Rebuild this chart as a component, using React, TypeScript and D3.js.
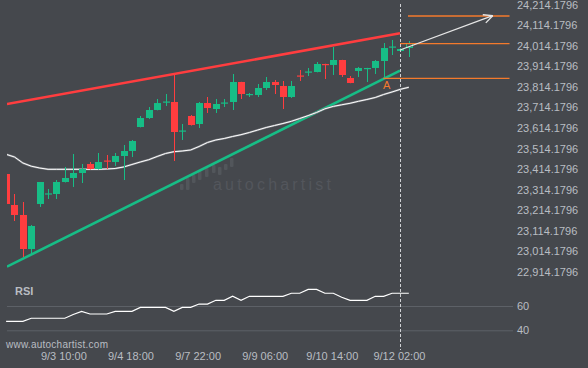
import React, { useEffect } from 'react';
import * as d3 from 'd3';

const W = 588;
const H = 368;

// Candles (4h), index 0..48
const opens = [23390.4, 23239.5, 23190.9, 23025.4, 23244.4, 23292, 23293.0, 23351.4, 23370.9, 23395.2, 23439.1, 23414.7, 23456.0, 23448.8, 23477.9, 23502.3, 23619.0, 23662.8, 23701.8, 23738.3, 23740.7, 23597.2, 23672.6, 23633.6, 23735.8, 23706.6, 23733.4, 23740.7, 23838.0, 23774.8, 23774.8, 23808.8, 23838.0, 23818.6, 23765.0, 23869.7, 23884.3, 23886.7, 23925.6, 23920.8, 23945.1, 23857.5, 23891.6, 23901.3, 23906.2, 23940.2, 24005.9, 23988.9, 24003.5];
const highs = [23400.1, 23293.0, 23254.1, 23142.2, 23351.4, 23317.4, 23361.1, 23424.5, 23487.7, 23439.1, 23448.8, 23492.5, 23482.8, 23492.5, 23531.5, 23555.8, 23672.6, 23716.4, 23755.3, 23779.6, 23872.0, 23633.7, 23677.5, 23740.7, 23765.0, 23755.3, 23755.3, 23876.9, 23839.0, 23784.5, 23828.3, 23862.4, 23847.7, 23842.9, 23842.9, 23896.4, 23906.2, 23935.4, 23927.0, 24008.3, 23946.0, 23867.2, 23911.1, 23907.0, 23945.1, 24027.8, 24042.4, 24003.5, 24037.6];
const lows = [23234.6, 23161.6, 22986.5, 22996.2, 23229.8, 23268.7, 23268.7, 23349.0, 23327.1, 23346.5, 23412.0, 23412.0, 23414.7, 23429.3, 23361.1, 23473.1, 23617.0, 23658.0, 23700.0, 23721.3, 23453.6, 23555.8, 23626.0, 23614.2, 23687.2, 23687.2, 23716.4, 23701.8, 23755.3, 23765.0, 23765.0, 23799.1, 23779.6, 23706.6, 23760.2, 23842.9, 23867.2, 23885.0, 23852.6, 23872.1, 23862.4, 23832.0, 23862.4, 23838.0, 23877.0, 23857.5, 23969.4, 23988.0, 23959.7];
const closes = [23244.4, 23190.9, 23025.4, 23137.3, 23351.4, 23296, 23351.4, 23370.9, 23395.2, 23414.7, 23414.7, 23448.8, 23451.2, 23477.9, 23502.3, 23550.9, 23662.8, 23701.8, 23735.7, 23743.1, 23594.7, 23602.0, 23628.8, 23735.8, 23711.5, 23731.0, 23738.3, 23838.0, 23779.6, 23779.6, 23808.8, 23838.0, 23823.4, 23765.0, 23818.6, 23864.8, 23889.1, 23925.6, 23920.8, 23945.1, 23872.1, 23833.2, 23906.2, 23906.2, 23940.2, 24003.4, 24010.8, 23998.6, 24027.8];

const maValues = [23486.2, 23473.0, 23443.9, 23428.3, 23419.5, 23413.2, 23413.2, 23413.2, 23413.2, 23413.2, 23413.2, 23413.2, 23414.7, 23417.1, 23424.4, 23436.6, 23448.8, 23459.9, 23475.5, 23490.1, 23498.9, 23502.3, 23507.2, 23524.2, 23543.7, 23555.8, 23563.1, 23572.9, 23581.6, 23592.3, 23604.5, 23616.6, 23626.4, 23636.1, 23646.8, 23660.4, 23674.5, 23689.6, 23707.6, 23719.3, 23727.1, 23734.4, 23744.1, 23752.9, 23762.6, 23777.2, 23789.4, 23802.5, 23812.3];

const rsiValues = [47.4, 47.4, 47.4, 49.9, 49.9, 49.9, 49.9, 49.9, 53, 55.6, 53.4, 53.4, 53.4, 55.6, 55.6, 55.6, 58.9, 58.9, 58.9, 58.9, 55.6, 58.9, 58.9, 61.6, 61.6, 64.7, 64.7, 68, 64.7, 68, 68, 68, 68, 68, 70.5, 70.5, 73.7, 73.7, 70.5, 70.5, 67.2, 64.7, 64.7, 64.7, 68, 68, 70.5, 70.5, 70.5];

const priceTicks = [24214.1796, 24114.1796, 24014.1796, 23914.1796, 23814.1796, 23714.1796, 23614.1796, 23514.1796, 23414.1796, 23314.1796, 23214.1796, 23114.1796, 23014.1796, 22914.1796];
const rsiTicks = [60, 40];
const dateTickIndex = [7, 15, 23, 31, 39, 47];
const dateTickLabels = ['9/3 10:00', '9/4 18:00', '9/7 22:00', '9/9 06:00', '9/10 14:00', '9/12 02:00'];

// Pattern (trend lines, levels, forecast)
const resistance = [{ i: 0.1, p: 23731.0 }, { i: 46.95, p: 24075.0 }];
const support = [{ i: 0.1, p: 22939.3 }, { i: 46.95, p: 23893.0 }];
const levels = [{ p: 24159.2, from: 47.9 }, { p: 24024.9, from: 46.95 }, { p: 23856.1, from: 44.96 }];
const levelEnd = 60;
const forecast = [{ i: 46.95, p: 23993.7 }, { i: 58, p: 24160.6 }];
const pointA = { i: 45, p: 23857.5 };
const nowIndex = 47;

const BG = '#45484d';
const GREEN = '#17bd86';
const RED = '#ff3d3f';
const ORANGE = '#f47a2c';
const TXT = '#b9bdc2';
const FONT = '"Liberation Sans", Arial, sans-serif';

export default function App() {
  useEffect(() => {
    document.body.style.margin = '0';
    document.body.style.background = BG;
  }, []);

  const x = d3.scaleLinear().domain([0, 48]).range([6.1, 6.1 + 48 * 8.39]);
  const y = d3.scaleLinear().domain([22914.1796, 24214.1796]).range([271.85, 4.7]);
  const yr = d3.scaleLinear().domain([40, 60]).range([330.3, 306]);
  const bw = 7;

  const maLine = d3.line<number>().x((_, i) => x(i)).y((d) => y(d))(maValues) || '';
  const rsiLine = d3.line<number>().x((_, i) => x(i)).y((d) => yr(d))(rsiValues) || '';
  const seg = d3.line<{ i: number; p: number }>().x((d) => x(d.i)).y((d) => y(d.p));

  const fx0 = x(forecast[0].i), fy0 = y(forecast[0].p);
  const fx1 = x(forecast[1].i), fy1 = y(forecast[1].p);
  const ang = Math.atan2(fy1 - fy0, fx1 - fx0);
  const hl = 10;
  const head = [ang + Math.PI - 0.45, ang + Math.PI + 0.45].map((a) => [fx1 + hl * Math.cos(a), fy1 + hl * Math.sin(a)]);

  const wmBars = [[180, 184, 190], [186, 178, 190], [192, 175, 183], [198, 170, 180], [205, 168, 177], [212, 165, 173], [218, 167, 175], [224, 164, 170], [230, 158, 167]];

  return (
    <svg width={W} height={H} style={{ position: 'absolute', left: 0, top: 0, display: 'block' }}>
      <defs>
        <clipPath id="plot">
          <rect x={7} y={0} width={506} height={282} />
        </clipPath>
      </defs>
      <rect x={0} y={0} width={W} height={H} fill={BG} />

      {/* watermark */}
      <g fill="#52565b">
        {wmBars.map((b, k) => (
          <rect key={k} x={b[0]} y={b[1]} width={3.5} height={b[2] - b[1]} rx={1} />
        ))}
        <text x={213} y={190} fontFamily={FONT} fontSize={16} letterSpacing={3.2} fill="#53565c">autochartist</text>
      </g>

      <g clipPath="url(#plot)">
        {/* trend lines */}
        <path d={seg(resistance) || ''} stroke={RED} strokeWidth={2.6} fill="none" />
        <path d={seg(support) || ''} stroke={GREEN} strokeWidth={2.6} fill="none" />

        {/* moving average */}
        <path d={maLine} stroke="#7f8287" strokeWidth={2} fill="none" />
        <path d={maLine} stroke="#ffffff" strokeWidth={1} fill="none" />

        {/* candles */}
        {opens.map((o, i) => {
          const c = closes[i];
          const up = c >= o;
          const col = up ? GREEN : RED;
          const cx = Math.round(x(i)) + 0.5;
          const top = y(Math.max(o, c));
          const bot = y(Math.min(o, c));
          const hh = Math.max(1.2, bot - top);
          const last = i === opens.length - 1;
          return (
            <g key={i}>
              <line x1={cx} x2={cx} y1={y(highs[i])} y2={y(lows[i])} stroke={col} strokeWidth={1} />
              {last ? (
                <rect x={cx - bw / 2 + 0.5} y={top + 0.5} width={bw - 1} height={hh - 1} fill={BG} stroke={col} strokeWidth={1} />
              ) : (
                <rect x={cx - bw / 2} y={top} width={bw} height={hh} fill={col} />
              )}
            </g>
          );
        })}

        {/* levels */}
        {levels.map((l, k) => (
          <line key={k} x1={x(l.from)} x2={x(levelEnd)} y1={y(l.p)} y2={y(l.p)} stroke={ORANGE} strokeWidth={1.3} />
        ))}
        <text x={x(pointA.i) + 3} y={y(pointA.p) + 11} fontFamily={FONT} fontSize={11} fill={ORANGE} textAnchor="middle">A</text>

        {/* forecast arrow */}
        <line x1={fx0} y1={fy0} x2={fx1} y2={fy1} stroke="#e6e6e6" strokeWidth={1.3} />
        {head.map((h, k) => (
          <line key={k} x1={fx1} y1={fy1} x2={h[0]} y2={h[1]} stroke="#e6e6e6" strokeWidth={1.3} />
        ))}
      </g>

      {/* price axis labels */}
      {priceTicks.map((v) => (
        <text key={v} x={517} y={y(v) + 4} fontFamily={FONT} fontSize={11} fill={TXT}>
          {d3.format(',.4f')(v)}
        </text>
      ))}

      {/* RSI panel */}
      {rsiTicks.map((v) => (
        <g key={v}>
          <line x1={7} x2={513} y1={yr(v) + 0.5} y2={yr(v) + 0.5} stroke="#5d6167" strokeWidth={1} />
          <text x={517} y={yr(v) + 4} fontFamily={FONT} fontSize={11} fill={TXT}>{v}</text>
        </g>
      ))}
      <text x={15} y={295} fontFamily={FONT} fontSize={11} fontWeight="bold" fill={TXT}>RSI</text>
      <path d={rsiLine} stroke="#ffffff" strokeWidth={1.2} fill="none" />

      {/* now line */}
      <line x1={Math.round(x(nowIndex)) + 0.5} x2={Math.round(x(nowIndex)) + 0.5} y1={4} y2={350} stroke="#cfd1d4" strokeWidth={1} strokeDasharray="3,2" />

      {/* footer */}
      <text x={6} y={348} fontFamily={FONT} fontSize={10} letterSpacing={0.25} fill={TXT}>www.autochartist.com</text>
      {dateTickIndex.map((idx, k) => (
        <text key={k} x={x(idx) - 1} y={360} fontFamily={FONT} fontSize={11} fill={TXT} textAnchor="middle">
          {dateTickLabels[k]}
        </text>
      ))}
    </svg>
  );
}
